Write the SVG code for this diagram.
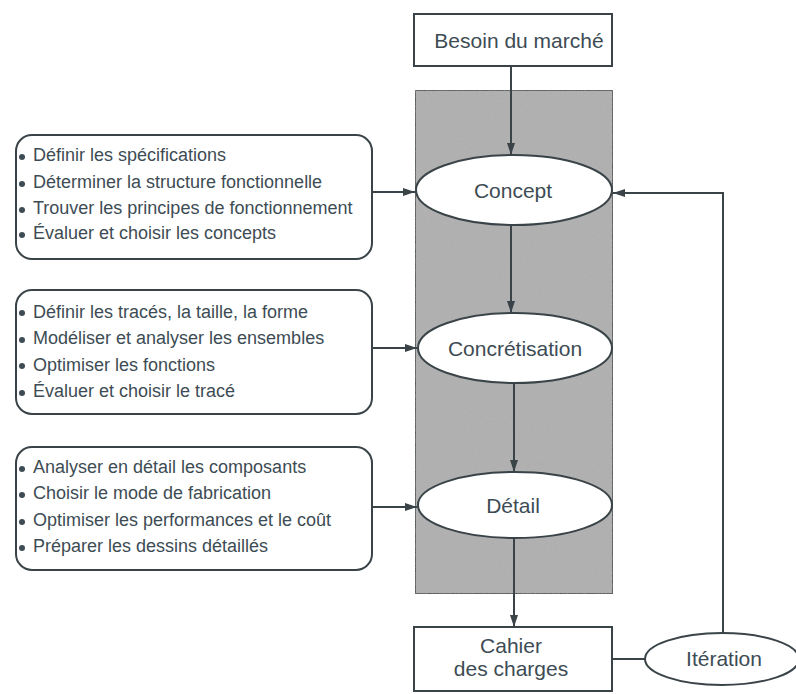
<svg xmlns="http://www.w3.org/2000/svg" width="796" height="694" viewBox="0 0 796 694">
  <defs>
    <marker id="arr" viewBox="0 0 12 10" refX="12" refY="5" markerWidth="13" markerHeight="10" markerUnits="userSpaceOnUse" orient="auto">
      <path d="M0,1 L12,5 L0,9 z" fill="#3a4448"/>
    </marker>
    <filter id="grain" x="0" y="0" width="100%" height="100%">
      <feTurbulence type="fractalNoise" baseFrequency="0.9" numOctaves="2" seed="3" result="n"/>
      <feColorMatrix in="n" type="matrix" values="0 0 0 0 0.55  0 0 0 0 0.55  0 0 0 0 0.55  0 0 0 0.35 0" result="g"/>
      <feComposite in="g" in2="SourceGraphic" operator="in" result="gm"/>
      <feMerge><feMergeNode in="SourceGraphic"/><feMergeNode in="gm"/></feMerge>
    </filter>
  </defs>
  <style>
    .ln { stroke: #3a4448; stroke-width: 2; fill: none; }
    .box { stroke: #3a4448; stroke-width: 2; fill: #ffffff; }
    .t { font-family: "Liberation Sans", Arial, sans-serif; fill: #3d4c54; }
    .lab { font-size: 21px; text-anchor: middle; }
    .item { font-size: 18px; }
    .dot { fill: #3d4c54; }
  </style>
  <rect width="796" height="694" fill="#ffffff"/>

  <!-- shaded design stage band -->
  <rect x="415" y="90" width="198" height="504" fill="#acacac" stroke="#3a4448" stroke-width="2" filter="url(#grain)"/>

  <g id="connectors">
    <line class="ln" x1="511" y1="66" x2="511" y2="155" marker-end="url(#arr)"/>
    <line class="ln" x1="511" y1="225" x2="511" y2="313" marker-end="url(#arr)"/>
    <line class="ln" x1="514" y1="383" x2="514" y2="472" marker-end="url(#arr)"/>
    <line class="ln" x1="514" y1="538" x2="514" y2="627" marker-end="url(#arr)"/>
    <line class="ln" x1="372" y1="192" x2="415" y2="192" marker-end="url(#arr)"/>
    <line class="ln" x1="372" y1="348" x2="417" y2="348" marker-end="url(#arr)"/>
    <line class="ln" x1="372" y1="507" x2="417" y2="507" marker-end="url(#arr)"/>
    <line class="ln" x1="612" y1="659" x2="645" y2="659"/>
    <polyline class="ln" points="723,633 723,193 613,193" marker-end="url(#arr)"/>
  </g>

  <g id="besoin">
    <rect class="box" x="414" y="14" width="198" height="52"/>
    <text class="t lab" x="519" y="48">Besoin du marché</text>
  </g>

  <g id="concept">
    <ellipse class="box" cx="514" cy="190" rx="98" ry="35"/>
    <text class="t lab" x="513" y="198">Concept</text>
  </g>

  <g id="concretisation">
    <ellipse class="box" cx="515" cy="348" rx="97" ry="35"/>
    <text class="t lab" x="515" y="356">Concrétisation</text>
  </g>

  <g id="detail">
    <ellipse class="box" cx="515" cy="505" rx="97" ry="33"/>
    <text class="t lab" x="513" y="513">Détail</text>
  </g>

  <g id="cahier">
    <rect class="box" x="414" y="627" width="198" height="64"/>
    <text class="t lab" x="511" y="653">Cahier</text>
    <text class="t lab" x="511" y="676">des charges</text>
  </g>

  <g id="iteration">
    <ellipse class="box" cx="722" cy="659" rx="77" ry="26"/>
    <text class="t lab" x="724" y="666">Itération</text>
  </g>

  <g id="tasks-concept">
    <rect class="box" x="16" y="135" width="356" height="124" rx="16"/>
    <circle class="dot" cx="22" cy="157" r="3"/>
    <circle class="dot" cx="22" cy="184" r="3"/>
    <circle class="dot" cx="22" cy="210" r="3"/>
    <circle class="dot" cx="22" cy="235" r="3"/>
    <text class="t item" x="33" y="161">Définir les spécifications</text>
    <text class="t item" x="33" y="188">Déterminer la structure fonctionnelle</text>
    <text class="t item" x="33" y="214">Trouver les principes de fonctionnement</text>
    <text class="t item" x="33" y="239">Évaluer et choisir les concepts</text>
  </g>

  <g id="tasks-concretisation">
    <rect class="box" x="16" y="290" width="356" height="124" rx="16"/>
    <circle class="dot" cx="22" cy="313" r="3"/>
    <circle class="dot" cx="22" cy="340" r="3"/>
    <circle class="dot" cx="22" cy="366" r="3"/>
    <circle class="dot" cx="22" cy="393" r="3"/>
    <text class="t item" x="33" y="318">Définir les tracés, la taille, la forme</text>
    <text class="t item" x="33" y="344">Modéliser et analyser les ensembles</text>
    <text class="t item" x="33" y="371">Optimiser les fonctions</text>
    <text class="t item" x="33" y="397">Évaluer et choisir le tracé</text>
  </g>

  <g id="tasks-detail">
    <rect class="box" x="16" y="447" width="356" height="123" rx="16"/>
    <circle class="dot" cx="22" cy="469" r="3"/>
    <circle class="dot" cx="22" cy="495" r="3"/>
    <circle class="dot" cx="22" cy="522" r="3"/>
    <circle class="dot" cx="22" cy="548" r="3"/>
    <text class="t item" x="33" y="473">Analyser en détail les composants</text>
    <text class="t item" x="33" y="499">Choisir le mode de fabrication</text>
    <text class="t item" x="33" y="526">Optimiser les performances et le coût</text>
    <text class="t item" x="33" y="552">Préparer les dessins détaillés</text>
  </g>
</svg>
